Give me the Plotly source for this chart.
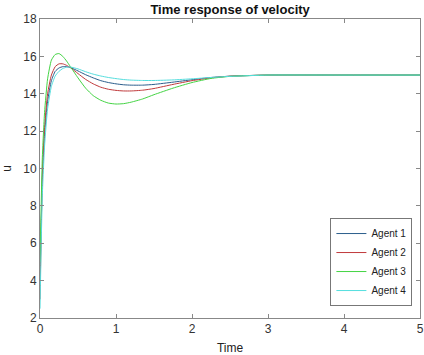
import plotly.graph_objects as go

t = [0, 0.03, 0.06, 0.1, 0.15, 0.2, 0.25, 0.3, 0.35, 0.4, 0.5, 0.6, 0.7, 0.8, 0.9, 1.0, 1.1, 1.2, 1.35, 1.5, 1.75, 2.0, 2.25, 2.5, 3, 4, 5]
agent1 = [4.0, 9.3, 11.8, 13.6, 14.7, 15.2, 15.38, 15.45, 15.45, 15.4, 15.22, 15.02, 14.85, 14.7, 14.6, 14.53, 14.48, 14.46, 14.46, 14.5, 14.62, 14.75, 14.87, 14.94, 15.0, 15.0, 15.0]
agent2 = [3.0, 9.5, 12.2, 14.0, 15.0, 15.45, 15.6, 15.6, 15.52, 15.4, 15.08, 14.77, 14.53, 14.35, 14.24, 14.18, 14.15, 14.15, 14.19, 14.28, 14.5, 14.7, 14.85, 14.94, 15.0, 15.0, 15.0]
agent3 = [5.0, 10.5, 13.0, 14.8, 15.8, 16.1, 16.15, 16.0, 15.75, 15.45, 14.85, 14.3, 13.9, 13.65, 13.5, 13.45, 13.47, 13.55, 13.72, 13.95, 14.3, 14.6, 14.82, 14.93, 15.0, 15.0, 15.0]
agent4 = [2.5, 8.5, 11.2, 13.2, 14.4, 14.95, 15.2, 15.35, 15.42, 15.43, 15.33, 15.18, 15.05, 14.95, 14.87, 14.81, 14.76, 14.73, 14.71, 14.71, 14.74, 14.8, 14.87, 14.93, 15.0, 15.0, 15.0]

names = ["Agent 1", "Agent 2", "Agent 3", "Agent 4"]
series = [agent1, agent2, agent3, agent4]
colors = ["#2b5d8c", "#c0393b", "#44d444", "#55dede"]

fig = go.Figure()
for n, s, c in zip(names, series, colors):
    fig.add_trace(go.Scatter(x=t, y=s, mode="lines", name=n,
                             line=dict(color=c, width=1, shape="spline", smoothing=0.5)))

axis_common = dict(showline=True, linecolor="#888", linewidth=1, mirror="ticks",
                   ticks="inside", ticklen=4, tickcolor="#888", showgrid=False,
                   zeroline=False, automargin=False, tickfont=dict(size=12, color="#333"))

fig.update_layout(
    width=424, height=355,
    margin=dict(l=40, r=4, t=19, b=37),
    paper_bgcolor="white", plot_bgcolor="white",
    font=dict(family="Liberation Sans, Arial, sans-serif", color="#222"),
    title=dict(text="<b>Time response of velocity</b>", x=0.5427, xanchor="center",
               y=0.972, yanchor="middle", font=dict(size=13, color="#111")),
    xaxis=dict(range=[0, 5], dtick=1, title=dict(text="Time", font=dict(size=12)), **axis_common),
    yaxis=dict(range=[2, 18], dtick=2, title=dict(text="u", font=dict(size=12)), **axis_common),
    legend=dict(x=0.98, y=0.04, xanchor="right", yanchor="bottom",
                bordercolor="#777", borderwidth=1, bgcolor="white",
                font=dict(size=10, color="#222"), itemwidth=30, tracegroupgap=0),
    showlegend=True,
)

fig.write_html("out.html", config={"displayModeBar": False},
               post_script="document.body.style.margin='0';document.body.style.overflow='hidden';")
